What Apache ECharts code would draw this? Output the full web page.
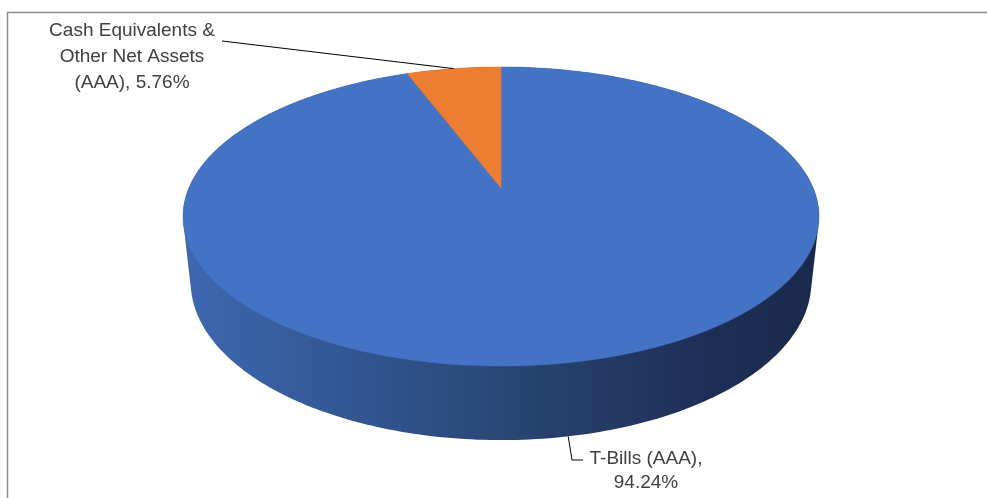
<!DOCTYPE html>
<html><head><meta charset="utf-8">
<script src="https://cdn.jsdelivr.net/npm/echarts@6/dist/echarts.min.js"></script>
<style>html,body{margin:0;padding:0;background:#fff}#c{width:987px;height:498px}</style>
</head><body><div id="c"></div>
<script>
// ---- data ----
const categories = ['T-Bills (AAA)', 'Cash Equivalents & Other Net Assets (AAA)'];
const values = [94.24, 5.76];
const colors = ['#4472C4', '#ED7D31'];
const sideColors = ['#2B4778', '#9A4F1C'];

// ---- 3D pie projection (layout) ----
const CX = 501, CY = 188;
const FOCAL = 1452.6, DIST = 4.654, TILT = 27.5 * Math.PI / 180, DEPTH = 0.238;
const S = Math.sin(TILT), C = Math.cos(TILT);
function proj(deg, h) {
  const a = deg * Math.PI / 180;
  const X = Math.sin(a), Y = -Math.cos(a);
  const yd = Y * S + h * C, z = DIST - Y * C + h * S;
  return [CX + FOCAL * X / z, CY + FOCAL * yd / z];
}
function apex(h) { const z = DIST + h * S; return [CX, CY + FOCAL * h * C / z]; }
const total = values.reduce((a, b) => a + b, 0);
const arcs = []; { let acc = 0; values.forEach(v => { const a0 = acc / total * 360; acc += v; arcs.push([a0, acc / total * 360]); }); }
function arcPts(i, h) {
  const [a0, a1] = arcs[i]; const n = Math.max(2, Math.ceil((a1 - a0) / 1)); const p = [];
  for (let k = 0; k <= n; k++) p.push(proj(a0 + (a1 - a0) * k / n, h));
  return p;
}
function hull(pts) {
  const p = pts.slice().sort((a, b) => a[0] - b[0] || a[1] - b[1]);
  const cr = (o, a, b) => (a[0] - o[0]) * (b[1] - o[1]) - (a[1] - o[1]) * (b[0] - o[0]);
  const lo = [], up = [];
  for (const q of p) { while (lo.length >= 2 && cr(lo[lo.length - 2], lo[lo.length - 1], q) <= 0) lo.pop(); lo.push(q); }
  for (let i = p.length - 1; i >= 0; i--) { const q = p[i]; while (up.length >= 2 && cr(up[up.length - 2], up[up.length - 1], q) <= 0) up.pop(); up.push(q); }
  up.pop(); lo.pop(); return lo.concat(up);
}
const xL = proj(259, 0)[0], xR = proj(101, 0)[0];
const sideGrad = i => i === 0 ? new echarts.graphic.LinearGradient(xL, 0, xR, 0, [
  { offset: 0, color: '#3D67B1' }, { offset: 0.3, color: '#31548F' }, { offset: 0.55, color: '#28436F' },
  { offset: 0.8, color: '#1E3058' }, { offset: 1, color: '#1A294B' }], true) : sideColors[i];

// label layout
const labelLayout = [
  { x: 646, y: 447, lh: 24, depth: DEPTH, line: [[572, 460], [583, 460]] },
  { x: 132, y: 18, lh: 26, depth: 0, line: [[222, 41]] }
];
const FONT = '19px "Liberation Sans", Arial, sans-serif';
const ctx = document.createElement('canvas').getContext('2d'); ctx.font = FONT;
function wrap(text, maxW) {
  const words = text.split(' '); const lines = []; let cur = '';
  for (const w of words) { const t = cur ? cur + ' ' + w : w; if (cur && ctx.measureText(t).width > maxW) { lines.push(cur); cur = w; } else cur = t; }
  lines.push(cur); return lines.join('\n');
}

const chart = echarts.init(document.getElementById('c'), null, { renderer: 'canvas' });
const data = values.map((v, i) => ({ name: categories[i], value: v }));
chart.setOption({
  animation: false,
  graphic: [{ type: 'rect', silent: true, shape: { x: 7.5, y: 12.5, width: 1000, height: 500 }, style: { fill: 'none', stroke: '#8c8c8c', lineWidth: 1.5 } }],
  series: [
    { type: 'custom', coordinateSystem: 'none', z: 2, data, silent: true,
      renderItem: (params) => {
        const i = params.dataIndex;
        const pts = [apex(0), apex(DEPTH)].concat(arcPts(i, 0), arcPts(i, DEPTH));
        return { type: 'polygon', shape: { points: hull(pts) }, style: { fill: sideGrad(i) } };
      } },
    { type: 'custom', coordinateSystem: 'none', z: 3, data, silent: true,
      renderItem: (params) => {
        const i = params.dataIndex;
        return { type: 'polygon', shape: { points: [apex(0)].concat(arcPts(i, 0)) }, style: { fill: colors[i], stroke: colors[i], lineWidth: 0.5 } };
      } },
    { type: 'custom', coordinateSystem: 'none', z: 4, data, silent: true,
      renderItem: (params, api) => {
        const i = params.dataIndex; const L = labelLayout[i];
        const mid = (arcs[i][0] + arcs[i][1]) / 2;
        const txt = wrap(categories[i] + ', ' + api.value(0).toFixed(2) + '%', 180);
        return { type: 'group', children: [
          { type: 'polyline', shape: { points: [proj(mid, L.depth)].concat(L.line) }, style: { stroke: '#000', lineWidth: 1, fill: null } },
          { type: 'text', x: L.x, y: L.y, style: { text: txt, font: FONT, fill: '#404040', align: 'center', verticalAlign: 'top', lineHeight: L.lh } }
        ] };
      } }
  ]
});
</script></body></html>
